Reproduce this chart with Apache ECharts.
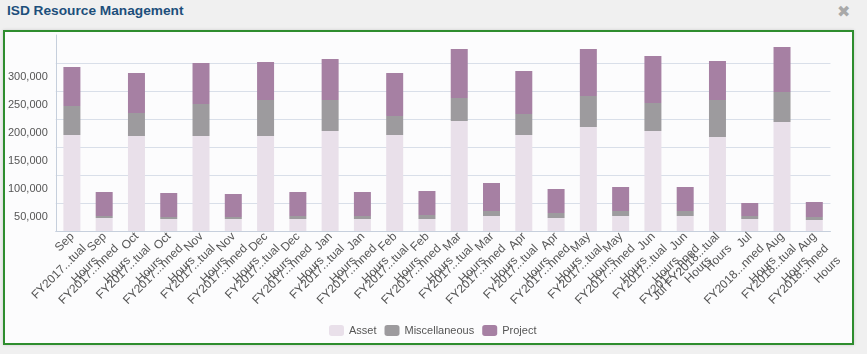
<!DOCTYPE html>
<html>
<head>
<meta charset="utf-8">
<title>ISD Resource Management</title>
<script src="https://cdn.jsdelivr.net/npm/echarts@6/dist/echarts.min.js"></script>
<style>
  html, body { margin: 0; padding: 0; background: #f0f0f0; width: 867px; height: 354px; overflow: hidden; }
  .title { position: absolute; left: 7px; top: 3px; font: bold 13.7px "Liberation Sans", Arial, sans-serif; color: #1d4f7b; }
  .close { position: absolute; left: 837px; top: 2px; font: 16px "DejaVu Sans", sans-serif; color: #a9a9a9; }
  .panel { position: absolute; left: 3px; top: 30px; width: 847px; height: 311px; border: 2px solid #2e8d2e; background: #fcfcfd; box-shadow: 0 0 3px rgba(0,0,0,0.15); overflow: hidden; }
  #chart { width: 847px; height: 311px; }
</style>
</head>
<body>
<div class="title">ISD Resource Management</div>
<div class="close">✖</div>
<div class="panel"><div id="chart"></div></div>
<script>
// categories: month + fiscal year + kind of hours
var categories = [
  'Sep FY2017 Actual Hours', 'Sep FY2017 Planned Hours',
  'Oct FY2017 Actual Hours', 'Oct FY2017 Planned Hours',
  'Nov FY2017 Actual Hours', 'Nov FY2017 Planned Hours',
  'Dec FY2017 Actual Hours', 'Dec FY2017 Planned Hours',
  'Jan FY2017 Actual Hours', 'Jan FY2017 Planned Hours',
  'Feb FY2017 Actual Hours', 'Feb FY2017 Planned Hours',
  'Mar FY2017 Actual Hours', 'Mar FY2017 Planned Hours',
  'Apr FY2017 Actual Hours', 'Apr FY2017 Planned Hours',
  'May FY2017 Actual Hours', 'May FY2017 Planned Hours',
  'Jun FY2017 Actual Hours', 'Jun FY2017 Planned Hours',
  'Jul FY2018 Actual Hours', 'Jul FY2018 Planned Hours',
  'Aug FY2018 Actual Hours', 'Aug FY2018 Planned Hours'
];
var asset = [171400, 23200, 169600, 21400, 169600, 21400, 169600, 21400, 178600, 21400, 171400, 21400,
             196400, 26800, 171400, 23200, 185700, 26800, 178600, 26800, 167900, 21400, 194600, 19600];
var misc = [51800, 3600, 41100, 3600, 57200, 3600, 64300, 5400, 55300, 5400, 34000, 7200,
            41100, 8900, 37500, 8900, 55400, 8900, 50000, 8900, 66000, 5400, 53600, 5400];
var project = [69700, 42800, 71400, 42900, 73200, 41100, 67900, 42800, 73200, 42800, 76700, 42800,
               87500, 50000, 76800, 42900, 83900, 42900, 83900, 42900, 69700, 23200, 80400, 26800];
var seriesNames = ['Asset', 'Miscellaneous', 'Project'];
var colors = ['#e9e0ea', '#9d9b9e', '#a680a3'];
var yMax = 350000;
var yStep = 50000;

var font = 'Liberation Sans';
var ctx = document.createElement('canvas').getContext('2d');
ctx.font = '12px "' + font + '"';

// "Sep FY2017 Actual Hours" -> "Sep\nFY2017...tual\nHours" (month joins the next line if it fits)
function wrapLabel(name) {
  var p = name.split(' ');
  var mid = p[1] + '...' + p[2].slice(-4);
  var joined = p[0] + ' ' + mid;
  if (ctx.measureText(joined).width < 92) return joined + '\n' + p[3];
  return p[0] + '\n' + mid + '\n' + p[3];
}

var chart = echarts.init(document.getElementById('chart'));
var series = [asset, misc, project].map(function (d, i) {
  return {
    name: seriesNames[i],
    type: 'bar',
    stack: 'hours',
    barWidth: 17,
    itemStyle: { color: colors[i] },
    data: d
  };
});

chart.setOption({
  animation: false,
  textStyle: { fontFamily: font },
  grid: { left: 49, right: 0, top: 3, bottom: 112 },
  legend: {
    data: seriesNames,
    left: 319,
    top: 288,
    icon: 'roundRect',
    itemWidth: 15,
    itemHeight: 11,
    itemGap: 8,
    textStyle: { color: '#555', fontSize: 11 }
  },
  xAxis: {
    type: 'category',
    data: categories,
    axisLine: { lineStyle: { color: '#c6cfdc' } },
    axisTick: { show: false },
    axisLabel: {
      interval: 0,
      rotate: 45,
      align: 'right',
      verticalAlign: 'top',
      margin: -8,
      padding: [0, 8, 0, 0],
      lineHeight: 17,
      fontSize: 12,
      color: '#555',
      formatter: wrapLabel
    }
  },
  yAxis: {
    type: 'value',
    min: 0,
    max: yMax,
    interval: yStep,
    axisLine: { show: true, lineStyle: { color: '#c6cfdc' } },
    axisTick: { show: false },
    splitLine: { showMaxLine: false, lineStyle: { color: '#d9dfe9' } },
    axisLabel: {
      color: '#555',
      fontSize: 11,
      verticalAlign: 'top',
      lineHeight: 28,
      formatter: function (v) {
        if (v === 0 || v === yMax) return '';
        return v.toLocaleString('en-US');
      }
    }
  },
  series: series
});
</script>
</body>
</html>
